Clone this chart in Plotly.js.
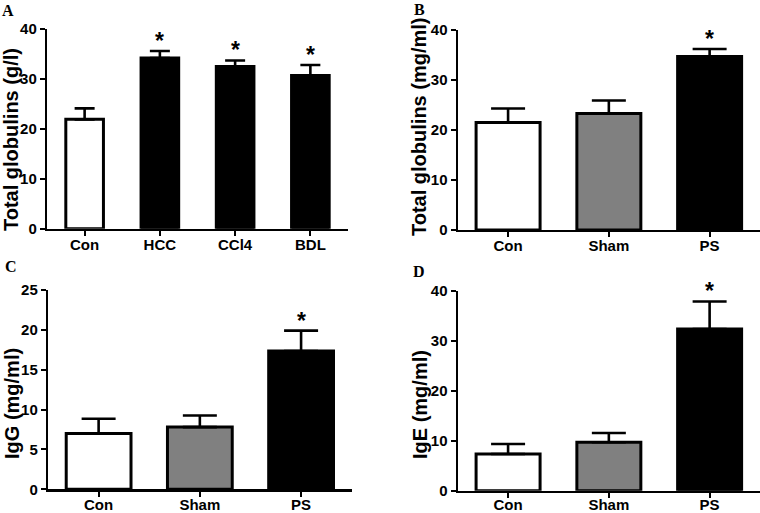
<!DOCTYPE html>
<html>
<head>
<meta charset="utf-8">
<script src="https://cdn.plot.ly/plotly-3.0.1.min.js"></script>
<style>html,body{margin:0;padding:0;background:#fff}#chart{width:760px;height:513px}</style>
</head>
<body>
<div id="chart"></div>
<script>
// ---- data ----
const catsA = ['Con', 'HCC', 'CCl4', 'BDL'];
const valsA = [21.9, 34.2, 32.5, 30.7];
const errA  = [2.2, 1.4, 1.2, 2.1];
const starA = [false, true, true, true];
const colA  = ['#ffffff', '#000000', '#000000', '#000000'];

const cats3 = ['Con', 'Sham', 'PS'];
const col3  = ['#ffffff', '#808080', '#000000'];

const valsB = [21.5, 23.3, 34.7];
const errB  = [2.8, 2.6, 1.5];
const starB = [false, false, true];

const valsC = [7.0, 7.8, 17.35];
const errC  = [1.85, 1.45, 2.55];
const starC = [false, false, true];

const valsD = [7.35, 9.7, 32.4];
const errD  = [2.0, 1.85, 5.5];
const starD = [false, false, true];

const yTitles = ['Total globulins (g/l)', 'Total globulins (mg/ml)', 'IgG (mg/ml)', 'IgE (mg/ml)'];
const letters = ['A', 'B', 'C', 'D'];
const yTicksA = [0, 10, 20, 30, 40];
const yTicksB = [0, 10, 20, 30, 40];
const yTicksC = [0, 5, 10, 15, 20, 25];
const yTicksD = [0, 10, 20, 30, 40];

// ---- layout helpers ----
const W = 760, H = 513;
const px = x => x / W;
const py = y => 1 - y / H;
const FONT = 'Arial, "Liberation Sans", Helvetica, sans-serif';

const panels = [
  {cats: catsA, vals: valsA, err: errA, star: starA, col: colA, ticks: yTicksA,
   xr: [47, 348], yr: [29, 228.7], width: 0.5, cap: 10, titlePos: [11, 140], xstand: -4},
  {cats: cats3, vals: valsB, err: errB, star: starB, col: col3, ticks: yTicksB,
   xr: [457.7, 760], yr: [30, 230], width: 0.635, cap: 17, titlePos: [419, 127], xstand: -4},
  {cats: cats3, vals: valsC, err: errC, star: starC, col: col3, ticks: yTicksC,
   xr: [48, 351.7], yr: [290, 489.3], width: 0.64, cap: 17, titlePos: [12, 404], xstand: -5},
  {cats: cats3, vals: valsD, err: errD, star: starD, col: col3, ticks: yTicksD,
   xr: [457.7, 760], yr: [291, 490.7], width: 0.635, cap: 17, titlePos: [420, 405], xstand: -6}
];
const letterPos = [[8, 11], [419, 9], [11, 266], [419, 271]];

const traces = [];
const layout = {
  width: W, height: H,
  margin: {l: 0, r: 0, t: 0, b: 0},
  paper_bgcolor: '#fff', plot_bgcolor: 'rgba(0,0,0,0)',
  showlegend: false,
  annotations: []
};

panels.forEach((p, i) => {
  const n = i === 0 ? '' : String(i + 1);
  traces.push({
    type: 'bar',
    x: p.cats, y: p.vals,
    xaxis: 'x' + n, yaxis: 'y' + n,
    width: p.width,
    marker: {color: p.col, line: {color: '#000', width: 3}},
    error_y: {type: 'data', symmetric: false, array: p.err,
              arrayminus: p.err.map(() => 0),
              color: '#000', thickness: 2.6, width: p.cap},
    hoverinfo: 'skip'
  });
  const ymax = p.ticks[p.ticks.length - 1];
  layout['xaxis' + n] = {
    domain: [px(p.xr[0]), Math.min(1, px(p.xr[1]))],
    anchor: 'y' + n,
    type: 'category',
    range: [-0.5, p.cats.length - 0.5],
    showline: true, linecolor: '#000', linewidth: 2.2,
    ticks: 'outside', ticklen: 5, tickwidth: 2, tickcolor: '#000',
    ticklabelstandoff: p.xstand,
    showgrid: false, zeroline: false, fixedrange: true,
    tickfont: {family: FONT, size: 15, color: '#000', weight: 'bold'}
  };
  layout['yaxis' + n] = {
    domain: [py(p.yr[1]), py(p.yr[0])],
    anchor: 'x' + n,
    range: [0, ymax],
    tickvals: p.ticks,
    showline: true, linecolor: '#000', linewidth: 2.2,
    ticks: 'outside', ticklen: 5, tickwidth: 2, tickcolor: '#000',
    showgrid: false, zeroline: false, fixedrange: true,
    tickfont: {family: FONT, size: 15, color: '#000', weight: 'bold'}
  };
  // stars
  p.cats.forEach((c, j) => {
    if (p.star[j]) {
      layout.annotations.push({
        xref: 'x' + n, yref: 'y' + n,
        x: c, y: p.vals[j] + p.err[j],
        yanchor: 'bottom', showarrow: false, yshift: -5,
        text: '*',
        font: {family: FONT, size: 23, color: '#000', weight: 'bold'}
      });
    }
  });
  // y-axis title
  layout.annotations.push({
    xref: 'paper', yref: 'paper',
    x: px(p.titlePos[0]), y: py(p.titlePos[1]),
    xanchor: 'center', yanchor: 'middle',
    textangle: -90, showarrow: false,
    text: yTitles[i],
    font: {family: FONT, size: 20, color: '#000', weight: 'bold'}
  });
  // panel letter
  layout.annotations.push({
    xref: 'paper', yref: 'paper',
    x: px(letterPos[i][0]), y: py(letterPos[i][1]),
    xanchor: 'center', yanchor: 'middle',
    showarrow: false,
    text: letters[i],
    font: {family: '"Times New Roman", "Liberation Serif", serif', size: 16, color: '#000', weight: 'bold'}
  });
});

Plotly.newPlot('chart', traces, layout, {staticPlot: true, displayModeBar: false});
</script>
</body>
</html>
